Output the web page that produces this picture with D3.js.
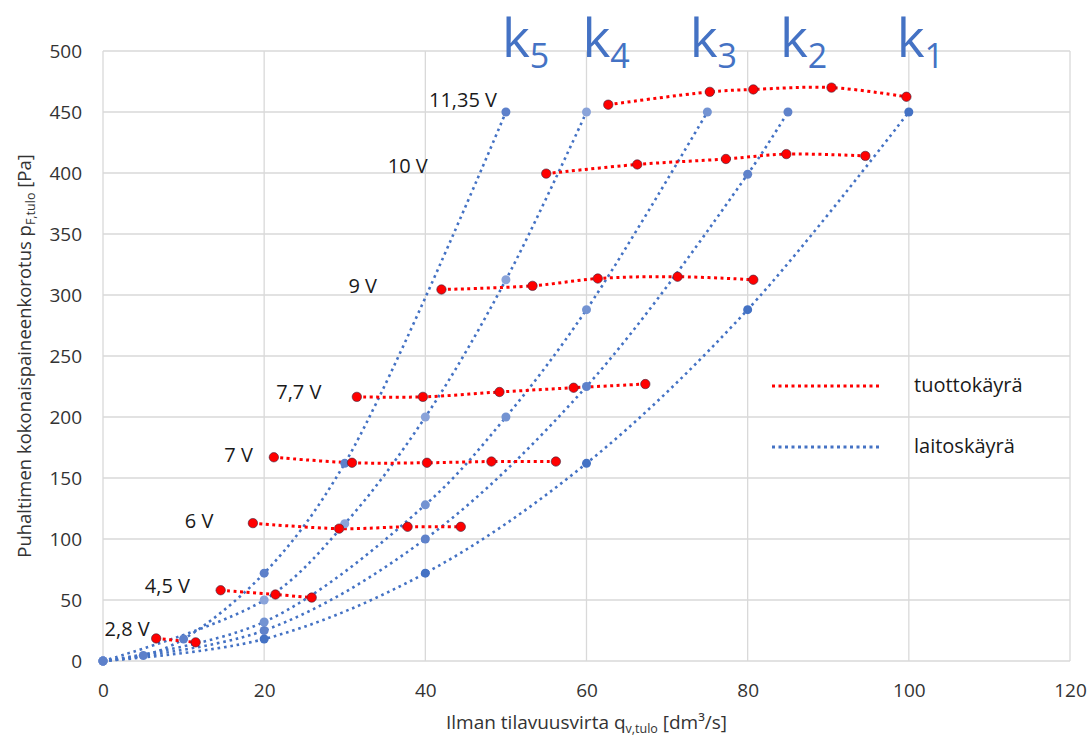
<!DOCTYPE html>
<html>
<head>
<meta charset="utf-8">
<script src="https://cdn.jsdelivr.net/npm/d3@7"></script>
<style>
  body { margin: 0; background: #fff; }
  text { font-family: "Open Sans", "Noto Sans", sans-serif; }
</style>
</head>
<body>
<div id="chart"></div>
<script>
// axis ticks
var xTicks = [0, 20, 40, 60, 80, 100, 120];
var yTicks = [0, 50, 100, 150, 200, 250, 300, 350, 400, 450, 500];

// laitoskäyrät (system curves) k1..k5
var kNames = ["1", "2", "3", "4", "5"];
var k1Flow = [0, 20, 40, 60, 80, 100];
var k1Pressure = [0, 18, 72, 162, 288, 450];
var k2Flow = [0, 20, 40, 60, 80, 85];
var k2Pressure = [0, 25, 100, 225, 399, 450];
var k3Flow = [0, 20, 40, 50, 60, 75];
var k3Pressure = [0, 32, 128, 200, 288, 450];
var k4Flow = [0, 20, 30, 40, 50, 60];
var k4Pressure = [0, 50, 112.5, 200, 312.5, 450];
var k5Flow = [0, 5, 10, 20, 30, 50];
var k5Pressure = [0, 4.5, 18, 72, 162, 450];
// where the k labels sit (flow value of the label's left edge)
var kLabelFlow = [98.5, 84, 72.8, 59.5, 49.5];

// tuottokäyrät (fan curves) per voltage
var voltNames = ["11,35 V", "10 V", "9 V", "7,7 V", "7 V", "6 V", "4,5 V", "2,8 V"];
var v1135Flow = [62.7, 75.3, 80.7, 90.4, 99.7];
var v1135Pressure = [456, 466.5, 468.5, 470, 462.5];
var v10Flow = [55.0, 66.3, 77.3, 84.8, 94.6];
var v10Pressure = [399.5, 407, 411.5, 415.5, 414];
var v9Flow = [42.0, 53.3, 61.4, 71.3, 80.7];
var v9Pressure = [304.5, 307.5, 313.5, 315, 312.5];
var v77Flow = [31.5, 39.7, 49.2, 58.4, 67.3];
var v77Pressure = [216.5, 216.5, 220.5, 224, 227];
var v7Flow = [21.2, 30.9, 40.2, 48.2, 56.2];
var v7Pressure = [167, 162.5, 162.5, 163.5, 163.5];
var v6Flow = [18.6, 29.3, 37.8, 44.4];
var v6Pressure = [113, 108.5, 110, 110];
var v45Flow = [14.6, 21.4, 25.9];
var v45Pressure = [58, 54.5, 52];
var v28Flow = [6.6, 11.5];
var v28Pressure = [18.5, 15.3];
// voltage label anchors (right end of text, in data units)
var voltLabelFlow = [48.9, 40.3, 34.0, 27.1, 18.6, 13.7, 10.8, 5.8];
var voltLabelPressure = [460, 406, 307.6, 220.7, 169, 115, 61.7, 26];

var kColors = ["#4472c4", "#5f82ca", "#7393d2", "#8aa3d9", "#5d80ca"];
var RED = "#ff0000";
var BLUE = "#4472c4";

function zip(a, b) {
  return a.map(function(d, i) { return {x: d, y: b[i]}; });
}

var kSeries = [
  zip(k1Flow, k1Pressure), zip(k2Flow, k2Pressure), zip(k3Flow, k3Pressure),
  zip(k4Flow, k4Pressure), zip(k5Flow, k5Pressure)
];
var voltSeries = [
  zip(v1135Flow, v1135Pressure), zip(v10Flow, v10Pressure), zip(v9Flow, v9Pressure),
  zip(v77Flow, v77Pressure), zip(v7Flow, v7Pressure), zip(v6Flow, v6Pressure),
  zip(v45Flow, v45Pressure), zip(v28Flow, v28Pressure)
];

var W = 1088, H = 738;
var margin = {top: 51, right: 18, bottom: 77, left: 103};
var width = W - margin.left - margin.right;
var height = H - margin.top - margin.bottom;

var svg = d3.select("#chart")
            .append("svg")
              .attr("width", W)
              .attr("height", H)
            .append("g")
              .attr("transform", "translate(" + margin.left + "," + margin.top + ")");

var x = d3.scaleLinear().domain([0, 120]).range([0, width]);
var y = d3.scaleLinear().domain([0, 500]).range([height, 0]);

// gridlines
svg.append("g").selectAll("line")
    .data(yTicks)
    .enter().append("line")
      .attr("x1", 0).attr("x2", width)
      .attr("y1", function(d) { return y(d); })
      .attr("y2", function(d) { return y(d); })
      .attr("stroke", "#d9d9d9")
      .attr("stroke-width", 1.3);
svg.append("g").selectAll("line")
    .data(xTicks)
    .enter().append("line")
      .attr("y1", 0).attr("y2", height)
      .attr("x1", function(d) { return x(d); })
      .attr("x2", function(d) { return x(d); })
      .attr("stroke", "#d9d9d9")
      .attr("stroke-width", 1.3);

// axes (labels only)
var xAxis = svg.append("g")
    .attr("transform", "translate(0," + height + ")")
    .call(d3.axisBottom(x).tickValues(xTicks).tickSize(0).tickPadding(23));
var yAxis = svg.append("g")
    .call(d3.axisLeft(y).tickValues(yTicks).tickSize(0).tickPadding(21));
[xAxis, yAxis].forEach(function(a) {
  a.select(".domain").remove();
  a.selectAll("text")
    .attr("font-family", "Open Sans")
    .attr("font-size", "19px")
    .attr("fill", "#333333");
});

// axis titles
var xTitle = svg.append("text")
    .attr("x", width / 2)
    .attr("y", height + 68)
    .attr("text-anchor", "middle")
    .attr("font-size", "19px")
    .attr("fill", "#333333");
xTitle.append("tspan").text("Ilman tilavuusvirta q");
xTitle.append("tspan").attr("font-size", "12.5px").attr("dy", 4).text("v,tulo");
xTitle.append("tspan").attr("dy", -4).text(" [dm³/s]");

var yTitle = svg.append("text")
    .attr("transform", "translate(" + (-72) + "," + (height / 2) + ") rotate(-90)")
    .attr("text-anchor", "middle")
    .attr("font-size", "18.5px")
    .attr("fill", "#333333");
yTitle.append("tspan").text("Puhaltimen kokonaispaineenkorotus p");
yTitle.append("tspan").attr("font-size", "12.5px").attr("dy", 4).text("F,tulo");
yTitle.append("tspan").attr("dy", -4).text(" [Pa]");

var line = d3.line()
    .x(function(d) { return x(d.x); })
    .y(function(d) { return y(d.y); })
    .curve(d3.curveCatmullRom);

// system curves
svg.append("g").selectAll("path")
    .data(kSeries)
    .enter().append("path")
      .attr("d", line)
      .attr("fill", "none")
      .attr("stroke", BLUE)
      .attr("stroke-width", 2.6)
      .attr("stroke-dasharray", "2.6,3.8");

// fan curves
svg.append("g").selectAll("path")
    .data(voltSeries)
    .enter().append("path")
      .attr("d", line)
      .attr("fill", "none")
      .attr("stroke", RED)
      .attr("stroke-width", 3)
      .attr("stroke-dasharray", "3,3.5");

// blue markers
kSeries.forEach(function(s, i) {
  svg.append("g").selectAll("circle")
      .data(s)
      .enter().append("circle")
        .attr("cx", function(d) { return x(d.x); })
        .attr("cy", function(d) { return y(d.y); })
        .attr("r", 4.5)
        .attr("fill", kColors[i]);
});

// red markers
voltSeries.forEach(function(s) {
  svg.append("g").selectAll("circle")
      .data(s)
      .enter().append("circle")
        .attr("cx", function(d) { return x(d.x); })
        .attr("cy", function(d) { return y(d.y); })
        .attr("r", 4.7)
        .attr("fill", RED)
        .attr("stroke", "#3a2540")
        .attr("stroke-opacity", 0.6)
        .attr("stroke-width", 1);
});

// voltage labels
svg.append("g").selectAll("text")
    .data(voltNames)
    .enter().append("text")
      .attr("x", function(d, i) { return x(voltLabelFlow[i]); })
      .attr("y", function(d, i) { return y(voltLabelPressure[i]); })
      .attr("dy", "0.35em")
      .attr("text-anchor", "end")
      .attr("font-size", "20px")
      .attr("fill", "#1a1a1a")
      .text(function(d) { return d; });

// k labels
kNames.forEach(function(n, i) {
  var t = svg.append("text")
      .attr("x", x(kLabelFlow[i]))
      .attr("y", 6)
      .attr("font-size", "53px")
      .attr("fill", BLUE);
  t.append("tspan").text("k");
  t.append("tspan").attr("font-size", "34px").attr("dy", 11).text(n);
});

// legend
var legend = [
  {name: "tuottokäyrä", color: RED, w: 3, dash: "3,3.5"},
  {name: "laitoskäyrä", color: BLUE, w: 3, dash: "3,3.5"}
];
var lg = svg.append("g").attr("transform", "translate(" + (772 - margin.left) + "," + (386 - margin.top) + ")");
legend.forEach(function(d, i) {
  lg.append("line")
    .attr("x1", 0).attr("x2", 108)
    .attr("y1", i * 61).attr("y2", i * 61)
    .attr("stroke", d.color)
    .attr("stroke-width", d.w)
    .attr("stroke-dasharray", d.dash);
  lg.append("text")
    .attr("x", 142)
    .attr("y", i * 61)
    .attr("dy", "0.32em")
    .attr("font-size", "20px")
    .attr("fill", "#1a1a1a")
    .text(d.name);
});
</script>
</body>
</html>
